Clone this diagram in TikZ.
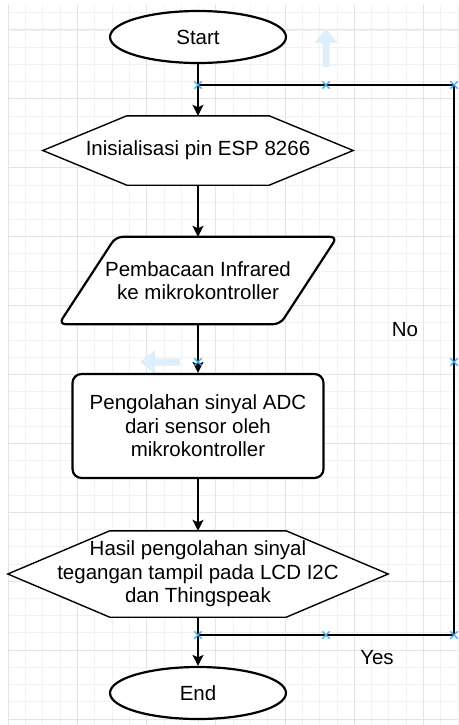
\documentclass[tikz,border=0pt]{standalone}
\usepackage{fontspec}
\setmainfont{Liberation Sans}
\usetikzlibrary{shapes.geometric,shapes.misc,arrows.meta,calc}
\definecolor{minorg}{HTML}{F2F2F2}
\definecolor{majorg}{HTML}{E4E4E4}
\definecolor{xblue}{HTML}{3FA9F5}
\definecolor{ghost}{HTML}{DCEFFB}
\pgfdeclarelayer{gridlayer}
\pgfdeclarelayer{bglayer}
\pgfsetlayers{gridlayer,bglayer,main}
\tikzset{
  minorline/.style={draw=minorg, line width=0.9pt},
  majorline/.style={draw=majorg, line width=1pt},
  txt/.style={align=center, inner sep=0pt},
  termbox/.style={ellipse, draw, line width=2.2pt, fill=white, minimum width=176pt, minimum height=52pt, inner sep=0pt},
  procbox/.style={rectangle, rounded corners=9pt, draw, line width=2.2pt, fill=white, minimum width=251pt, minimum height=104pt, align=center, inner sep=0pt},
  hexline/.style={draw, line width=1.4pt, fill=white},
  paraline/.style={draw, line width=2.2pt, fill=white, rounded corners=7pt},
  arr/.style={draw, line width=1.5pt, -{Stealth[length=11pt,width=11pt,inset=2.5pt]}},
  loopline/.style={draw, line width=2.7pt},
  bluex/.style={cross out, draw=xblue, line width=1.3pt, minimum size=6pt, inner sep=0pt},
  ghostfill/.style={fill=ghost, draw=none},
  lbl/.style={inner sep=0pt}
}
\begin{document}
\begin{tikzpicture}[x=1pt,y=-1pt, font=\fontsize{20.5}{23.5}\selectfont]
\useasboundingbox (0,0) rectangle (458,725);
\begin{pgfonlayer}{gridlayer}
  \fill[white] (0,0) rectangle (458,725);
  \foreach \i in {0,...,26} {\draw[minorline] ({8.3+17.3*\i},5) -- ({8.3+17.3*\i},725);}
  \foreach \i in {0,...,41} {\draw[minorline] (8.3,{12.75+17.225*\i}) -- (458,{12.75+17.225*\i});}
  \foreach \i in {0,...,6} {\draw[majorline] ({8.3+69.2*\i},5) -- ({8.3+69.2*\i},725);}
  \foreach \i in {0,...,10} {\draw[majorline] (8.3,{30+68.9*\i}) -- (458,{30+68.9*\i});}
  % faint editor arrows
  \path[ghostfill] (322.5,67) -- (329.5,67) -- (329.5,43) -- (337.5,43) -- (326,28) -- (314.5,43) -- (322.5,43) -- cycle;
  \path[ghostfill] (180,358.5) -- (180,365.5) -- (155,365.5) -- (155,374) -- (140,362) -- (155,350) -- (155,358.5) -- cycle;
\end{pgfonlayer}

% nodes
\node[termbox] (start) at (198,37) {Start};
\node[txt, minimum width=310pt, minimum height=69pt] (init) at (198,150.5) {Inisialisasi pin ESP 8266};
\node[txt, minimum width=278pt, minimum height=87pt] (read) at (198,280.5) {Pembacaan Infrared\\ke mikrokontroller};
\node[procbox] (proc) at (198,426) {Pengolahan sinyal ADC\\dari sensor oleh\\mikrokontroller};
\node[txt, minimum width=380pt, minimum height=86pt] (out) at (198,574) {Hasil pengolahan sinyal\\tegangan tampil pada LCD I2C\\dan Thingspeak};
\node[termbox] (end) at (198,693) {End};

\begin{pgfonlayer}{bglayer}
  \path[hexline] (init.west) -- ($(init.north west)+(84,0)$) -- ($(init.north east)+(-84,0)$) -- (init.east) -- ($(init.south east)+(-84,0)$) -- ($(init.south west)+(84,0)$) -- cycle;
  \path[paraline] ($(read.north west)+(57,0)$) -- (read.north east) -- ($(read.south east)+(-57,0)$) -- (read.south west) -- cycle;
  \path[hexline] (out.west) -- ($(out.north west)+(102,0)$) -- ($(out.north east)+(-102,0)$) -- (out.east) -- ($(out.south east)+(-102,0)$) -- ($(out.south west)+(102,0)$) -- cycle;
\end{pgfonlayer}

% junction coordinates
\coordinate (j1) at (198,85);
\coordinate (c1) at (454,85);
\coordinate (j2) at (198,635);
\coordinate (c2) at (454,635);

% connectors
\draw[arr] (start.south) -- (init.north);
\draw[arr] (init.south) -- (read.north);
\draw[arr] (read.south) -- (proc.north);
\draw[arr] (proc.south) -- (out.north);
\draw[arr] (out.south) -- (end.north);
\draw[loopline] (j2) -- (c2) -- (c1) -- (j1);

% labels
\node[lbl] (no) at (405,330) {No};
\node[lbl] (yes) at (377,658) {Yes};

% editor markers
\node[bluex] (x1) at (198,85) {};
\node[bluex] (x2) at (326,85) {};
\node[bluex] (x3) at (454,85) {};
\node[bluex] (x4) at (198,635) {};
\node[bluex] (x5) at (326,635) {};
\node[bluex] (x6) at (454,635) {};
\node[bluex] (x7) at (454,362) {};
\node[bluex] (x8) at (198,362) {};
\end{tikzpicture}
\end{document}
